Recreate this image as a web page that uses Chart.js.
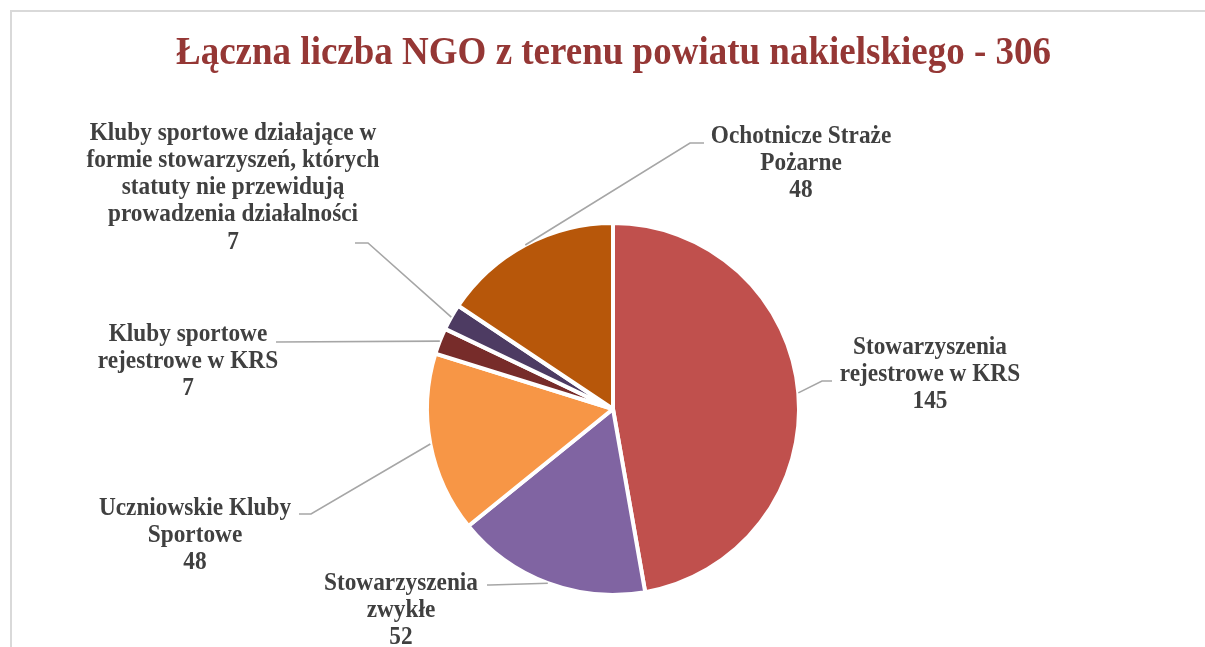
<!DOCTYPE html>
<html>
<head>
<meta charset="utf-8">
<script src="https://cdn.jsdelivr.net/npm/chart.js@4.4.1/dist/chart.umd.min.js"></script>
<style>
  html, body { margin: 0; padding: 0; background: #fff; }
  #wrap { width: 1205px; height: 647px; position: relative; }
</style>
</head>
<body>
<div id="wrap"><canvas id="pie"></canvas></div>
<script>
const chartTitle = 'Łączna liczba NGO z terenu powiatu nakielskiego - 306';
const categories = [
    ['Stowarzyszenia', 'rejestrowe w KRS'],
    ['Stowarzyszenia', 'zwykłe'],
    ['Uczniowskie Kluby', 'Sportowe'],
    ['Kluby sportowe', 'rejestrowe w KRS'],
    ['Kluby sportowe działające w', 'formie stowarzyszeń, których', 'statuty nie przewidują', 'prowadzenia działalności'],
    ['Ochotnicze Straże', 'Pożarne']
];
const values = [145, 52, 48, 7, 7, 48];
const colors = ['#C0504D', '#8064A2', '#F79646', '#772C2A', '#4D3B62', '#B7570A'];

// label placement: text centre x, first line y, leader elbow and leader end
const labelLayout = [
    {x: 930, y: 347, elbow: [822, 381], end: [832, 381]},
    {x: 401, y: 583, elbow: [490, 585], end: [487, 585]},
    {x: 195, y: 508, elbow: [311, 514], end: [299, 514]},
    {x: 188, y: 334, elbow: [276, 342], end: [276, 342]},
    {x: 233, y: 133, elbow: [368, 243], end: [355, 243]},
    {x: 801, y: 136, elbow: [690, 143], end: [704, 143]}
];

// excel text looks a bit taller than the font, stretch it vertically
function tallText(ctx, t, x, y, stretch) {
    ctx.save();
    ctx.translate(x, y);
    ctx.scale(1, stretch);
    ctx.fillText(t, 0, 0);
    ctx.restore();
}

const calloutLabels = {
    id: 'calloutLabels',
    beforeDraw(chart) {
        const ctx = chart.ctx;
        ctx.save();
        ctx.strokeStyle = '#D9D9D9';
        ctx.lineWidth = 2;
        ctx.strokeRect(11, 11, 1200, 700);

        ctx.fillStyle = '#953735';
        ctx.font = 'bold 37px "Liberation Serif"';
        ctx.textAlign = 'center';
        ctx.textBaseline = 'middle';
        tallText(ctx, chartTitle, 613.5, 53, 1.1);
        ctx.restore();
    },
    afterDatasetsDraw(chart) {
        const ctx = chart.ctx;
        const meta = chart.getDatasetMeta(0);
        ctx.save();
        meta.data.forEach((arc, i) => {
            const p = arc.getProps(['x', 'y', 'startAngle', 'endAngle', 'outerRadius'], true);
            const mid = (p.startAngle + p.endAngle) / 2;
            const ax = p.x + Math.cos(mid) * p.outerRadius;
            const ay = p.y + Math.sin(mid) * p.outerRadius;
            const lay = labelLayout[i];

            ctx.strokeStyle = '#A6A6A6';
            ctx.lineWidth = 1.6;
            ctx.beginPath();
            ctx.moveTo(ax, ay);
            ctx.lineTo(lay.elbow[0], lay.elbow[1]);
            ctx.lineTo(lay.end[0], lay.end[1]);
            ctx.stroke();

            const lines = categories[i].concat(String(values[i]));
            ctx.fillStyle = '#404040';
            ctx.font = 'bold 23.3px "Liberation Serif"';
            ctx.textAlign = 'center';
            ctx.textBaseline = 'middle';
            lines.forEach((t, k) => tallText(ctx, t, lay.x, lay.y + k * 27.3, 1.08));
        });
        ctx.restore();
    }
};

new Chart(document.getElementById('pie').getContext('2d'), {
    type: 'pie',
    data: {
        labels: categories,
        datasets: [{
            data: values,
            backgroundColor: colors,
            borderColor: '#ffffff',
            borderWidth: 4,
            hoverOffset: 0
        }]
    },
    options: {
        responsive: true,
        maintainAspectRatio: false,
        animation: false,
        radius: 186,
        layout: {
            padding: {left: 413, right: 392, top: 209, bottom: 38}
        },
        plugins: {
            legend: {display: false},
            tooltip: {enabled: false},
            title: {display: false}
        }
    },
    plugins: [calloutLabels]
});
</script>
</body>
</html>
